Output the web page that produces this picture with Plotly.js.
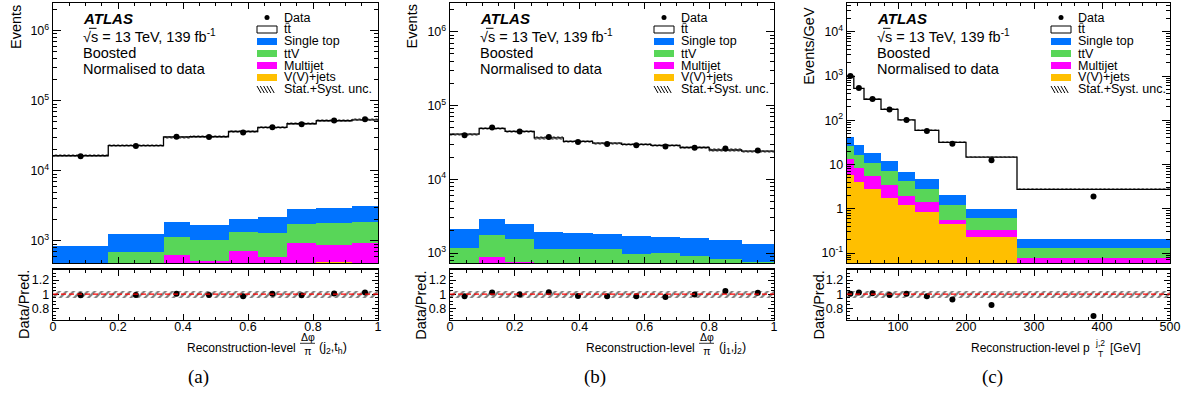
<!DOCTYPE html>
<html><head><meta charset="utf-8">
<script src="https://cdn.plot.ly/plotly-3.0.1.min.js"></script>
<style>html,body{margin:0;padding:0;background:#fff}#chart{width:1193px;height:410px}</style>
</head><body><div id="chart"></div>
<script>
// ---------- Panel (a): Δφ/π (j2,th) ----------
const edgesA    = [0, 0.17, 0.34, 0.42, 0.54, 0.63, 0.72, 0.81, 0.92, 1.0];
const dataA     = [16200, 22700, 30600, 30400, 35400, 42100, 46400, 52500, 54800];
const ratioA    = [0.985, 0.99, 1.005, 0.99, 0.97, 1.005, 0.985, 1.01, 1.025];
const ttbarA    = [15590, 21680, 28600, 29030, 34440, 39710, 44280, 48990, 50300];
const singleTopA= [410, 555, 710, 640, 700, 865, 1080, 1210, 1270];
const ttVA      = [150, 290, 515, 510, 630, 715, 820, 920, 950];
const multijetA = [150, 220, 375, 295, 430, 320, 530, 365, 500];
const vjetsA    = [150, 180, 250, 230, 300, 280, 400, 500, 440];
const uncA      = [0.05, 0.05, 0.05, 0.05, 0.05, 0.05, 0.05, 0.05, 0.05];

// ---------- Panel (b): Δφ/π (j1,j2) ----------
const edgesB    = [0, 0.09, 0.17, 0.26, 0.35, 0.44, 0.53, 0.62, 0.71, 0.80, 0.90, 1.0];
const dataB     = [39600, 50200, 44400, 37300, 31900, 30000, 28800, 27700, 26800, 26000, 24500];
const ratioB    = [0.971, 1.024, 0.995, 1.029, 0.976, 0.971, 0.971, 0.961, 0.995, 1.044, 1.02];
const ttbarB    = [38690, 46170, 42100, 34340, 30790, 29060, 27950, 27190, 25330, 23400, 22700];
const singleTopB= [929, 1108, 964, 777, 759, 701, 737, 637, 684, 689, 561];
const ttVB      = [557, 866, 789, 533, 553, 573, 429, 480, 420, 340, 300];
const multijetB = [350, 584, 477, 350, 340, 330, 320, 310, 300, 290, 280];
const vjetsB    = [250, 300, 280, 250, 240, 230, 220, 210, 200, 190, 180];
const uncB      = [0.05, 0.05, 0.05, 0.05, 0.05, 0.05, 0.05, 0.05, 0.05, 0.05, 0.05];

// ---------- Panel (c): pT(j,2) [GeV], events / GeV ----------
const edgesC    = [25, 35, 50, 75, 100, 125, 160, 200, 275, 500];
const dataC     = [1000, 536, 303, 174, 102, 57.4, 29.3, 12.5, 1.9];
const ratioC    = [1.005, 1.024, 1.015, 0.99, 1.005, 0.971, 0.927, 0.849, 0.693];
const ttbarC    = [953, 496, 280, 164, 94.7, 54.5, 29.6, 13.7, 2.54];
const singleTopC= [15.2, 10.9, 7.4, 4.8, 2.7, 1.77, 0.79, 0.339, 0.071];
const ttVC      = [13.4, 7.6, 5.4, 3.74, 2.21, 1.42, 0.664, 0.297, 0.056];
const multijetC = [7.5, 4.4, 2.77, 1.59, 0.74, 0.555, 0.087, 0.10, 0.046];
const vjetsC    = [5.9, 4.0, 2.73, 1.77, 1.19, 0.855, 0.459, 0.23, 0.03];
const uncC      = [0.05, 0.05, 0.05, 0.05, 0.05, 0.05, 0.05, 0.05, 0.05];

// ---------- Text ----------
const legendLabels = ['Data', 'tt', 'Single top', 'ttV', 'Multijet', 'V(V)+jets', 'Stat.+Syst. unc.'];
const panelLetters = ['(a)', '(b)', '(c)'];

const COL = {st: '#0073ff', ttv: '#58d658', mj: '#ff00ff', vv: '#ffbf00'};
const FONT = 'Liberation Sans, Arial, Helvetica, sans-serif';
const W = 1193, H = 410;
const PX = x => x / W, PY = y => 1 - y / H;

const panels = [
  {L: 53,  R: 378,  edges: edgesA, data: dataA, ratio: ratioA, tt: ttbarA, st: singleTopA, ttv: ttVA, mj: multijetA, vv: vjetsA, unc: uncA,
   xr: [0, 1], yr: [2.686, 6.396], dec: [3, 4, 5, 6], xdt: 0.2, xmin: 0.05, ylab: 'Events', ylabX: 15.3, ylabY: 26.7, rlabX: 24},
  {L: 450, R: 774,  edges: edgesB, data: dataB, ratio: ratioB, tt: ttbarB, st: singleTopB, ttv: ttVB, mj: multijetB, vv: vjetsB, unc: uncB,
   xr: [0, 1], yr: [2.865, 6.388], dec: [3, 4, 5, 6], xdt: 0.2, xmin: 0.05, ylab: 'Events', ylabX: 411.7, ylabY: 26.7, rlabX: 420.8},
  {L: 847, R: 1170, edges: edgesC, data: dataC, ratio: ratioC, tt: ttbarC, st: singleTopC, ttv: ttVC, mj: multijetC, vv: vjetsC, unc: uncC,
   xr: [25, 500], yr: [-1.226, 4.65], dec: [-1, 0, 1, 2, 3, 4], xdt: 100, xmin: 20, ylab: 'Events/GeV', ylabX: 808.8, ylabY: 46, rlabX: 818.5}
];

const MAIN_TOP = 3, MAIN_BOT = 263, RAT_TOP = 269.5, RAT_BOT = 320;
const traces = [];
const layout = {
  width: W, height: H, margin: {l: 0, r: 0, t: 0, b: 0}, autosize: false,
  paper_bgcolor: '#fff', plot_bgcolor: 'rgba(0,0,0,0)', showlegend: false,
  barmode: 'overlay', bargap: 0, font: {family: FONT, size: 12, color: '#000'},
  annotations: [], shapes: []
};

function decLabel(d) {
  if (d === 0) return '1';
  if (d === 1) return '10';
  return '10<sup>' + d + '</sup>';
}

function addText(text, x, y, size, opts) {
  layout.annotations.push(Object.assign({
    text: text, x: PX(x), y: PY(y), xref: 'paper', yref: 'paper', showarrow: false,
    xanchor: 'left', yanchor: 'middle', font: {family: FONT, size: size, color: '#000'}
  }, opts || {}));
}

function addRect(x0, y0, x1, y1, fill, line) {
  layout.shapes.push({type: 'rect', xref: 'paper', yref: 'paper', x0: PX(x0), x1: PX(x1), y0: PY(y1), y1: PY(y0),
    fillcolor: fill, line: line || {width: 0}});
}
function addLine(x0, y0, x1, y1, color, width, dash) {
  layout.shapes.push({type: 'line', xref: 'paper', yref: 'paper', x0: PX(x0), x1: PX(x1), y0: PY(y0), y1: PY(y1),
    line: {color: color, width: width, dash: dash || 'solid'}});
}

panels.forEach((p, i) => {
  const m = 2 * i + 1, r = 2 * i + 2;
  const xm = m === 1 ? 'x' : 'x' + m, ym = m === 1 ? 'y' : 'y' + m;
  const xr_ = 'x' + r, yr_ = 'y' + r;
  const n = p.data.length;
  const centers = [], widths = [];
  for (let k = 0; k < n; k++) { centers.push((p.edges[k] + p.edges[k + 1]) / 2); widths.push(p.edges[k + 1] - p.edges[k]); }
  const vvTop = p.vv.slice();
  const mjTop = vvTop.map((v, k) => v + p.mj[k]);
  const ttvTop = mjTop.map((v, k) => v + p.ttv[k]);
  const stTop = ttvTop.map((v, k) => v + p.st[k]);
  const total = stTop.map((v, k) => v + p.tt[k]);

  const bar = (y, color) => ({type: 'bar', x: centers, y: y, width: widths, xaxis: xm, yaxis: ym,
    marker: {color: color, line: {width: 0}}, hoverinfo: 'skip'});
  traces.push(bar(stTop, COL.st), bar(ttvTop, COL.ttv), bar(mjTop, COL.mj), bar(vvTop, COL.vv));
  // uncertainty hatch band on prediction
  traces.push({type: 'bar', x: centers, width: widths, xaxis: xm, yaxis: ym,
    base: total.map((t, k) => t * (1 - p.unc[k])), y: total.map((t, k) => t * 2 * p.unc[k]),
    marker: {color: 'rgba(0,0,0,0)', line: {width: 0},
      pattern: {shape: '\\', fgcolor: '#000', bgcolor: 'rgba(0,0,0,0)', size: 3, solidity: 0.5, fillmode: 'overlay'}},
    hoverinfo: 'skip'});
  // total prediction step line
  traces.push({type: 'scatter', mode: 'lines', x: p.edges, y: total.concat([total[n - 1]]), xaxis: xm, yaxis: ym,
    line: {shape: 'hv', color: '#000', width: 1.3}, hoverinfo: 'skip'});
  // data
  traces.push({type: 'scatter', mode: 'markers', x: centers, y: p.data, xaxis: xm, yaxis: ym,
    marker: {color: '#000', size: 6}, hoverinfo: 'skip'});
  // ratio band
  traces.push({type: 'bar', x: centers, width: widths, xaxis: xr_, yaxis: yr_,
    base: p.unc.map(u => 1 - u), y: p.unc.map(u => 2 * u),
    marker: {color: 'rgba(0,0,0,0)', line: {width: 0},
      pattern: {shape: '/', fgcolor: '#000', bgcolor: 'rgba(0,0,0,0)', size: 5, solidity: 0.45, fillmode: 'overlay'}},
    hoverinfo: 'skip'});
  traces.push({type: 'scatter', mode: 'markers', x: centers, y: p.ratio, xaxis: xr_, yaxis: yr_,
    marker: {color: '#000', size: 6}, hoverinfo: 'skip'});
  layout.shapes.push({type: 'line', xref: xr_, yref: yr_, x0: p.xr[0], x1: p.xr[1], y0: 1, y1: 1, layer: 'above',
    line: {color: '#ff0000', width: 1.3, dash: '5px,3px'}});

  const dom = [PX(p.L), PX(p.R)];
  const common = {showline: true, linecolor: '#000', linewidth: 1.3, mirror: 'allticks', ticks: 'inside',
    tickcolor: '#000', showgrid: false, zeroline: false, fixedrange: true, tickfont: {family: FONT, size: 12.5}};
  const xk = m === 1 ? 'xaxis' : 'xaxis' + m, yk = m === 1 ? 'yaxis' : 'yaxis' + m;
  layout[xk] = Object.assign({}, common, {domain: dom, anchor: ym, range: p.xr, dtick: p.xdt, tick0: 0,
    ticklen: 6, showticklabels: false,
    minor: {dtick: p.xmin, tick0: 0, ticks: 'inside', ticklen: 3, tickcolor: '#000', showgrid: false}});
  const ymin = [];
  for (let d = Math.floor(p.yr[0]); d <= Math.ceil(p.yr[1]); d++) for (let k = 2; k <= 9; k++) ymin.push(k * Math.pow(10, d));
  layout[yk] = Object.assign({}, common, {domain: [PY(MAIN_BOT), PY(MAIN_TOP)], anchor: xm, type: 'log', range: p.yr,
    tickmode: 'array', tickvals: p.dec.map(d => Math.pow(10, d)), ticktext: p.dec.map(decLabel), ticklen: 8,
    minor: {tickmode: 'array', tickvals: ymin, ticks: 'inside', ticklen: 4, tickcolor: '#000', showgrid: false}});
  layout['xaxis' + r] = Object.assign({}, common, {domain: dom, anchor: yr_, range: p.xr, dtick: p.xdt, tick0: 0,
    ticklen: 6, ticklabelstandoff: -5,
    minor: {dtick: p.xmin, tick0: 0, ticks: 'inside', ticklen: 3, tickcolor: '#000', showgrid: false}});
  layout['yaxis' + r] = Object.assign({}, common, {domain: [PY(RAT_BOT), PY(RAT_TOP)], anchor: xr_, range: [0.635, 1.35],
    tickmode: 'array', tickvals: [0.8, 1, 1.2], ticktext: ['0.8', '1', '1.2'], ticklen: 6,
    minor: {dtick: 0.05, tick0: 0, ticks: 'inside', ticklen: 3, tickcolor: '#000', showgrid: false}});

  // Axis titles
  addText(p.ylab, p.ylabX, p.ylabY, 14.5, {textangle: -90, xanchor: 'center', yanchor: 'middle'});
  addText('Data/Pred.', p.rlabX, 305, 14.5, {textangle: -90, xanchor: 'center', yanchor: 'middle'});

  // ATLAS labels
  const L = p.L;
  addText('<b><i>ATLAS</i></b>', L + 28, 18.5, 15);
  addText('\u221As = 13 TeV, 139 fb<sup>-1</sup>', L + 28, 36, 14.5);
  addLine(L + 36, 28.3, L + 43.5, 28.3, '#000', 1);
  addText('Boosted', L + 28, 53.3, 14.5);
  addText('Normalised to data', L + 28, 69, 14.5);

  // Legend
  const bx0 = L + 204, bx1 = L + 224, tx = L + 229;
  const rows = [17.5, 29.5, 41.5, 53.5, 65.5, 77.5, 89.5];
  layout.shapes.push({type: 'circle', xref: 'paper', yref: 'paper', x0: PX(bx0 + 7.5), x1: PX(bx0 + 12.5),
    y0: PY(rows[0] + 2.5), y1: PY(rows[0] - 2.5), fillcolor: '#000', line: {width: 0}});
  addRect(bx0, rows[1] - 3.5, bx1, rows[1] + 3.5, '#fff', {color: '#000', width: 1});
  addRect(bx0, rows[2] - 3.5, bx1, rows[2] + 3.5, COL.st);
  addRect(bx0, rows[3] - 3.5, bx1, rows[3] + 3.5, COL.ttv);
  addRect(bx0, rows[4] - 3.5, bx1, rows[4] + 3.5, COL.mj);
  addRect(bx0, rows[5] - 3.5, bx1, rows[5] + 3.5, COL.vv);
  for (let hx = bx0; hx <= bx1 - 4; hx += 3.3) addLine(hx, rows[6] - 3.5, hx + 4, rows[6] + 3.5, '#000', 1);
  legendLabels.forEach((t, k) => addText(t, tx, rows[k], 12.5));
  addLine(tx + 3.6, rows[1] - 6.3, tx + 7.2, rows[1] - 6.3, '#000', 0.9); // bar over second t

  // panel letter
  addText(panelLetters[i], L + 145, 377, 19, {xanchor: 'center', font: {family: 'Liberation Serif, Times New Roman, serif', size: 19, color: '#000'}});
});

// x-axis titles
// (a)
addText('Reconstruction-level', 298.3, 347.5, 12, {xanchor: 'right'});
addText('\u0394\u03c6<br>\u03c0', 307.5, 343.5, 10.5, {xanchor: 'center'});
addLine(300, 343.3, 315, 343.3, '#000', 0.8);
addText('(j<sub>2</sub>,t<sub>h</sub>)', 316.5, 347.5, 12.5);
// (b)
addText('Reconstruction-level', 697, 347.5, 12, {xanchor: 'right'});
addText('\u0394\u03c6<br>\u03c0', 706.5, 343.5, 10.5, {xanchor: 'center'});
addLine(699, 343.3, 714, 343.3, '#000', 0.8);
addText('(j<sub>1</sub>,j<sub>2</sub>)', 716.5, 347.5, 12.5);
// (c)
addText('Reconstruction-level p', 1092, 347.5, 12, {xanchor: 'right'});
addText('j,2<br>T', 1093, 348, 8.5);
addText('[GeV]', 1108, 347.5, 12);

Plotly.newPlot('chart', traces, layout, {staticPlot: true, displayModeBar: false});
</script>
</body></html>
